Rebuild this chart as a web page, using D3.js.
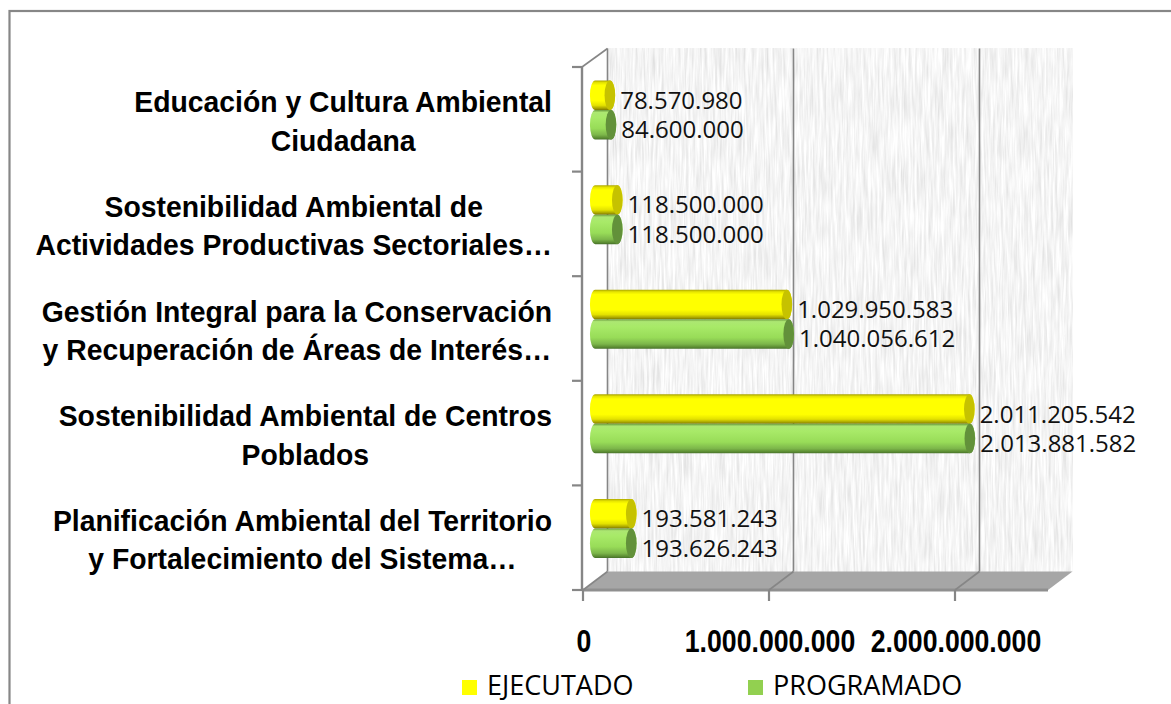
<!DOCTYPE html>
<html>
<head>
<meta charset="utf-8">
<script src="https://cdn.jsdelivr.net/npm/d3@7"></script>
<style>
  body { margin: 0; background: #fff; }
  svg { display: block; }
</style>
</head>
<body>
<svg id="chart" width="1171" height="704"></svg>
<script>
// data
const categories = [
  ["Educación y Cultura Ambiental", "Ciudadana"],
  ["Sostenibilidad Ambiental de", "Actividades Productivas Sectoriales…"],
  ["Gestión Integral para la Conservación", "y Recuperación de Áreas de Interés…"],
  ["Sostenibilidad Ambiental de Centros", "Poblados"],
  ["Planificación Ambiental del Territorio", "y Fortalecimiento del Sistema…"]
];
const seriesNames = ["EJECUTADO", "PROGRAMADO"];
const ejecutado = [78570980, 118500000, 1029950583, 2011205542, 193581243];
const programado = [84600000, 118500000, 1040056612, 2013881582, 193626243];
const xTicks = [0, 1000000000, 2000000000];

const W = 1171, H = 704;
const margins = [67, 123, 114, 583]; // top, right, bottom, left (front plane)
const depth = [24.5, -18.5]; // 3d offset of back wall
const labelSqueeze = 0.945; // horizontal squeeze for the bold labels
const tickSqueeze = 0.86;
const labelFont = "'Liberation Sans', Arial, sans-serif";
const valueFont = "'Open Sans', 'Noto Sans', sans-serif";

const fmt = d3.formatLocale({ decimal: ",", thousands: ".", grouping: [3], currency: ["$", ""] }).format(",d");

const svg = d3.select("#chart");
const [mt, mr, mb, ml] = margins;
const [dx, dy] = depth;

const x = d3.scaleLinear().domain([0, 2500000000]).range([ml, W - mr]);
const y = d3.scaleBand()
  .domain(d3.range(categories.length))
  .range([mt, H - mb])
  .paddingInner(0.436)
  .paddingOuter(0.218);
const ySub = d3.scaleBand().domain(d3.range(seriesNames.length)).range([0, y.bandwidth()]);

const defs = svg.append("defs");

// paper-like texture for the back wall
const f = defs.append("filter").attr("id", "tex")
  .attr("x", 0).attr("y", 0).attr("width", 1).attr("height", 1);
f.append("feTurbulence")
  .attr("type", "fractalNoise")
  .attr("baseFrequency", "0.45 0.025")
  .attr("numOctaves", 3)
  .attr("seed", 7);
f.append("feColorMatrix")
  .attr("type", "matrix")
  .attr("values", "0.4 0 0 0 0.71  0.4 0 0 0 0.71  0.4 0 0 0 0.71  0 0 0 0 1");

function gradient(id, stops) {
  const g = defs.append("linearGradient").attr("id", id)
    .attr("x1", 0).attr("y1", 0).attr("x2", 0).attr("y2", 1);
  stops.forEach(([o, c]) => g.append("stop").attr("offset", o).attr("stop-color", c));
}
gradient("gYellow", [[0, "#aaa400"], [0.07, "#e6e400"], [0.16, "#ffff00"], [0.68, "#ffff00"], [0.84, "#e4e200"], [0.94, "#aaa500"], [1, "#7c7800"]]);
gradient("gGreen", [[0, "#6a9a3e"], [0.08, "#ace772"], [0.25, "#a8ea68"], [0.62, "#98dc58"], [0.84, "#7cb64a"], [0.95, "#5a8a32"], [1, "#46702a"]]);
const bodyFill = ["url(#gYellow)", "url(#gGreen)"];
const capFill = ["#c6c200", "#62913a"];
const legendColor = ["#ffff00", "#92d050"];

// bold text squeezed in x around its anchor
function squeezedText(parent, cx, by, size, str, k) {
  const g = parent.append("g").attr("transform", `translate(${cx},${by}) scale(${k},1)`);
  return g.append("text")
    .attr("text-anchor", "middle")
    .attr("font-family", labelFont)
    .attr("font-weight", "bold")
    .attr("font-size", size)
    .text(str);
}

// outer frame
svg.append("rect")
  .attr("x", 9.5).attr("y", 11)
  .attr("width", 1300).attr("height", 800)
  .attr("fill", "none")
  .attr("stroke", "#878787")
  .attr("stroke-width", 2.2);

// back wall
svg.append("rect")
  .attr("x", x(0) + dx).attr("y", mt + dy)
  .attr("width", x.range()[1] - x(0)).attr("height", H - mb - mt)
  .attr("filter", "url(#tex)");

// floor
const floorY = H - mb;
svg.append("path")
  .attr("d", `M${x(0)},${floorY} L${x(0) + dx},${floorY + dy} L${x.range()[1] + dx},${floorY + dy} L${x.range()[1]},${floorY} Z`)
  .attr("fill", "#a6a6a6");
svg.append("rect")
  .attr("x", x(0)).attr("y", floorY - 1.5)
  .attr("width", x.range()[1] - x(0)).attr("height", 3)
  .attr("fill", "#8f8f8f");

// gridlines on the wall + diagonals on the floor
const gridColor = "#868686";
svg.selectAll(".grid")
  .data(xTicks)
  .enter()
  .append("line")
  .attr("class", "grid")
  .attr("x1", (d) => x(d) + dx).attr("x2", (d) => x(d) + dx)
  .attr("y1", mt + dy).attr("y2", floorY + dy)
  .attr("stroke", gridColor).attr("stroke-width", 1.6);
svg.selectAll(".diag")
  .data(xTicks)
  .enter()
  .append("line")
  .attr("class", "diag")
  .attr("x1", (d) => x(d)).attr("x2", (d) => x(d) + dx)
  .attr("y1", floorY).attr("y2", floorY + dy)
  .attr("stroke", gridColor).attr("stroke-width", 1.6);

// vertical (category) axis on the front plane
svg.append("line")
  .attr("x1", x(0) - 1).attr("x2", x(0) - 1)
  .attr("y1", mt).attr("y2", floorY + 1)
  .attr("stroke", gridColor).attr("stroke-width", 2.4);
svg.append("line")
  .attr("x1", x(0) - 1).attr("x2", x(0) + dx)
  .attr("y1", mt).attr("y2", mt + dy)
  .attr("stroke", gridColor).attr("stroke-width", 1.6);
const boundaries = d3.range(categories.length + 1).map((i) => mt + i * y.step());
svg.selectAll(".ytick")
  .data(boundaries)
  .enter()
  .append("line")
  .attr("class", "ytick")
  .attr("x1", x(0) - 11).attr("x2", x(0) - 1)
  .attr("y1", (d) => d).attr("y2", (d) => d)
  .attr("stroke", gridColor).attr("stroke-width", 2.2);

// value axis ticks + labels
svg.selectAll(".xtick")
  .data(xTicks)
  .enter()
  .append("line")
  .attr("class", "xtick")
  .attr("x1", (d) => x(d)).attr("x2", (d) => x(d))
  .attr("y1", floorY).attr("y2", floorY + 11)
  .attr("stroke", gridColor).attr("stroke-width", 2.2);
xTicks.forEach((d) => squeezedText(svg, x(d) + 1, 652, 31, fmt(d), tickSqueeze));

// category labels (two centred lines, block right-aligned)
const labelRight = 552;
categories.forEach((lines, i) => {
  const c = y(i) + y.bandwidth() / 2 + 1;
  const texts = lines.map((ln, j) => squeezedText(svg, 0, c - 8 + j * 38.5, 30, ln, labelSqueeze));
  const maxW = d3.max(texts, (t) => t.node().getComputedTextLength()) * labelSqueeze;
  texts.forEach((t, j) =>
    d3.select(t.node().parentNode)
      .attr("transform", `translate(${labelRight - maxW / 2},${c - 8 + j * 38.5}) scale(${labelSqueeze},1)`)
  );
});

// cylinders
const seriesData = [ejecutado, programado];
function cylinder(x0, x1, yt, h) {
  const rx = h * 0.18, ry = h / 2, yb = yt + h;
  return `M${x0},${yt} L${x1},${yt} A${rx},${ry} 0 0 1 ${x1},${yb} L${x0},${yb} A${rx},${ry} 0 0 1 ${x0},${yt} Z`;
}
seriesData.forEach((vals, s) => {
  const h = ySub.bandwidth();
  const rx = h * 0.18;
  const g = svg.append("g").attr("class", "series-" + s);
  vals.forEach((v, i) => {
    const yt = y(i) + ySub(s) + dy / 2;
    const x0 = x(0) + dx / 2;
    const x1 = x(v) + dx / 2;
    g.append("path")
      .attr("d", cylinder(x0, x1, yt, h))
      .attr("fill", bodyFill[s]);
    g.append("ellipse")
      .attr("cx", x1).attr("cy", yt + h / 2)
      .attr("rx", rx).attr("ry", h / 2)
      .attr("fill", capFill[s]);
    g.append("text")
      .attr("x", x1 + rx + 5)
      .attr("y", yt + h / 2 + 13.5)
      .attr("font-family", valueFont)
      .attr("font-size", 24)
      .attr("fill", "#111")
      .text(fmt(v));
  });
});

// legend
const legendX = [462, 748];
seriesNames.forEach((name, s) => {
  svg.append("rect")
    .attr("x", legendX[s]).attr("y", 680)
    .attr("width", 15).attr("height", 15)
    .attr("fill", legendColor[s]);
  svg.append("text")
    .attr("x", legendX[s] + 25).attr("y", 695)
    .attr("font-family", valueFont)
    .attr("font-size", 27)
    .text(name);
});
</script>
</body>
</html>
